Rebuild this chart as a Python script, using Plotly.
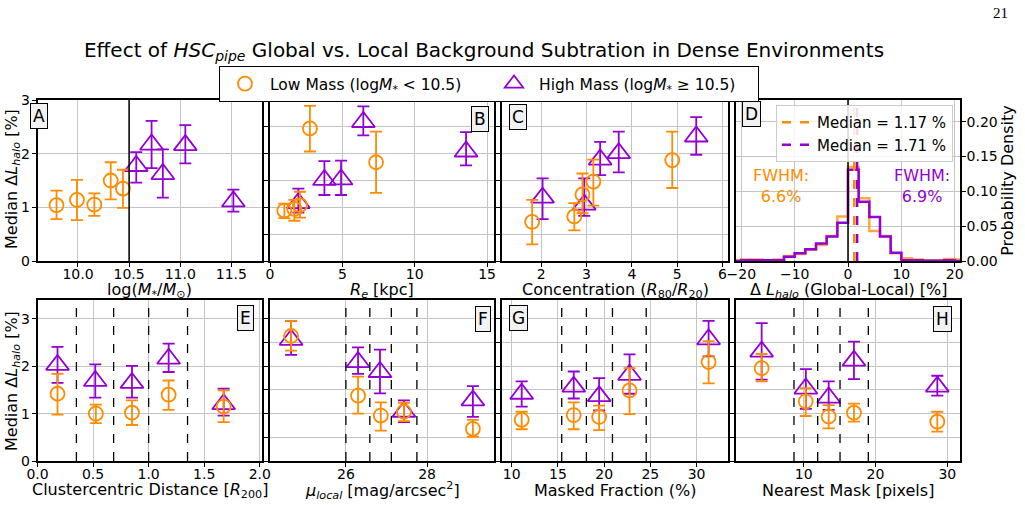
import plotly.graph_objects as go

W, H = 1025, 505
ORANGE = '#ff8c00'
PURPLE = '#9400d3'
FONT = 'DejaVu Sans'

# ---------------- data ----------------
# Panel A: stellar mass
A_LOW_X = [9.79, 9.99, 10.16, 10.32, 10.44]
A_LOW_Y = [1.04, 1.14, 1.05, 1.50, 1.35]
A_LOW_LO = [0.78, 0.76, 0.84, 1.15, 0.99]
A_LOW_HI = [1.31, 1.51, 1.26, 1.84, 1.70]
A_HIGH_X = [10.57, 10.72, 10.83, 11.05, 11.52]
A_HIGH_Y = [1.77, 2.17, 1.62, 2.16, 1.11]
A_HIGH_LO = [1.46, 1.73, 1.18, 1.82, 0.92]
A_HIGH_HI = [2.03, 2.61, 2.08, 2.53, 1.33]

# Panel B: effective radius
B_LOW_X = [0.99, 1.68, 2.07, 2.76, 7.33]
B_LOW_Y = [0.94, 0.97, 1.04, 2.47, 1.84]
B_LOW_LO = [0.80, 0.75, 0.81, 2.04, 1.27]
B_LOW_HI = [1.07, 1.14, 1.29, 2.89, 2.41]
B_HIGH_X = [1.96, 3.76, 4.91, 6.45, 13.55]
B_HIGH_Y = [1.08, 1.51, 1.52, 2.59, 2.04]
B_HIGH_LO = [0.90, 1.23, 1.23, 2.34, 1.78]
B_HIGH_HI = [1.35, 1.86, 1.87, 2.88, 2.40]

# Panel C: concentration
C_LOW_X = [1.80, 2.73, 2.91, 3.15, 4.89]
C_LOW_Y = [0.73, 0.83, 1.24, 1.48, 1.88]
C_LOW_LO = [0.31, 0.57, 0.89, 1.03, 1.36]
C_LOW_HI = [1.14, 1.08, 1.63, 1.89, 2.41]
C_HIGH_X = [2.03, 2.95, 3.30, 3.71, 5.42]
C_HIGH_Y = [1.18, 1.05, 1.89, 2.01, 2.32]
C_HIGH_LO = [0.78, 0.84, 1.60, 1.65, 1.98]
C_HIGH_HI = [1.54, 1.54, 2.22, 2.41, 2.68]

# Panel D: histogram of Delta L_halo (bin edges and densities)
D_EDGES = [-22, -20, -18, -16, -14, -12, -10, -8, -6, -4, -2, 0, 2, 4, 6, 8, 10, 12, 14, 16, 18, 20, 22]
D_LOW_DENS = [0.001, 0.002, 0.002, 0.001, 0.002, 0.007, 0.010, 0.016, 0.023, 0.036, 0.064,
              0.135, 0.090, 0.043, 0.036, 0.011, 0.004, 0.002, 0.001, 0.001, 0.003, 0.002]
D_HIGH_DENS = [0.000, 0.001, 0.001, 0.001, 0.001, 0.006, 0.011, 0.017, 0.025, 0.035, 0.055,
               0.131, 0.085, 0.063, 0.035, 0.012, 0.001, 0.001, 0.0005, 0.0005, 0.001, 0.000]
D_MEDIANS = [1.17, 1.71]
D_FWHM = [6.6, 6.9]

# Panel E: clustercentric distance
E_LOW_X = [0.18, 0.525, 0.85, 1.18, 1.675]
E_LOW_Y = [1.42, 1.00, 1.02, 1.40, 1.15]
E_LOW_LO = [0.98, 0.80, 0.76, 1.08, 0.82]
E_LOW_HI = [1.84, 1.19, 1.28, 1.70, 1.49]
E_HIGH_X = [0.18, 0.52, 0.85, 1.18, 1.675]
E_HIGH_Y = [2.03, 1.69, 1.65, 2.16, 1.20]
E_HIGH_LO = [1.65, 1.34, 1.34, 1.88, 0.96]
E_HIGH_HI = [2.41, 2.04, 2.01, 2.48, 1.53]
E_BIN_EDGES = [0.35, 0.685, 1.0, 1.35]

# Panel F: local surface brightness
F_LOW_X = [24.65, 26.30, 26.86, 27.43, 29.13]
F_LOW_Y = [2.64, 1.38, 0.96, 1.04, 0.68]
F_LOW_LO = [2.33, 1.00, 0.64, 0.84, 0.51]
F_LOW_HI = [2.96, 1.78, 1.24, 1.23, 0.87]
F_HIGH_X = [24.65, 26.30, 26.84, 27.43, 29.13]
F_HIGH_Y = [2.56, 2.09, 1.88, 1.04, 1.28]
F_HIGH_LO = [2.24, 1.84, 1.43, 0.82, 0.93]
F_HIGH_HI = [2.96, 2.40, 2.35, 1.28, 1.58]
F_BIN_EDGES = [26.0, 26.59, 27.12, 27.75]

# Panel G: masked fraction
G_LOW_X = [11.08, 16.71, 19.46, 22.75, 31.3]
G_LOW_Y = [0.87, 0.97, 0.93, 1.49, 2.09]
G_LOW_LO = [0.67, 0.67, 0.65, 0.99, 1.64]
G_LOW_HI = [1.04, 1.24, 1.17, 1.96, 2.53]
G_HIGH_X = [11.08, 16.71, 19.46, 22.75, 31.3]
G_HIGH_Y = [1.42, 1.57, 1.37, 1.82, 2.57]
G_HIGH_LO = [1.15, 1.32, 1.07, 1.42, 2.21]
G_HIGH_HI = [1.68, 1.89, 1.75, 2.25, 2.96]
G_BIN_EDGES = [15.41, 18.08, 20.9, 24.55]

# Panel H: nearest mask
H_LOW_X = [4.15, 10.28, 13.48, 17.0, 28.6]
H_LOW_Y = [1.96, 1.26, 0.94, 1.02, 0.83]
H_LOW_LO = [1.68, 0.95, 0.69, 0.83, 0.62]
H_LOW_HI = [2.26, 1.54, 1.18, 1.21, 1.04]
H_HIGH_X = [4.15, 10.3, 13.48, 17.0, 28.6]
H_HIGH_Y = [2.31, 1.53, 1.34, 2.12, 1.57]
H_HIGH_LO = [1.72, 1.10, 1.08, 1.73, 1.38]
H_HIGH_HI = [2.91, 1.94, 1.68, 2.52, 1.80]
H_BIN_EDGES = [8.65, 11.95, 15.06, 19.0]

MASS_SPLIT = 10.5

X_TITLES = ['log(<i>M</i><sub>*</sub>/<i>M</i><sub>⊙</sub>)',
            '<i>R</i><sub><i>e</i></sub> [kpc]',
            'Concentration (<i>R</i><sub>80</sub>/<i>R</i><sub>20</sub>)',
            'Δ <i>L</i><sub><i>halo</i></sub> (Global-Local) [%]',
            'Clustercentric Distance [<i>R</i><sub>200</sub>]',
            '<i>μ</i><sub><i>local</i></sub> [mag/arcsec<sup>2</sup>]',
            'Masked Fraction (%)',
            'Nearest Mask [pixels]']
Y_TITLE = 'Median Δ<i>L</i><sub><i>halo</i></sub> [%]'


# ---------------- helpers ----------------
def px_x(p):
    return p / W


def px_y(p):
    return 1 - p / H


def xid(k):
    return 'x' if k == 1 else 'x%d' % k


def yid(k):
    return 'y' if k == 1 else 'y%d' % k


COLS = [(37.5, 262), (270, 494), (502, 728), (736, 960)]
ROWS = [(100, 261), (300, 461)]

fig = go.Figure()


def add_points(k, lx, ly, llo, lhi, hx, hy, hlo, hhi, legend=False):
    xa, ya = xid(k), yid(k)
    fig.add_trace(go.Scatter(
        x=hx, y=hy, xaxis=xa, yaxis=ya, mode='markers',
        name='High Mass (log<i>M</i><sub>*</sub> ≥ 10.5)', showlegend=legend, legendrank=2,
        marker=dict(symbol='triangle-up-open', size=20, color=PURPLE, line=dict(width=1.8, color=PURPLE)),
        error_y=dict(type='data', symmetric=False,
                     array=[a - b for a, b in zip(hhi, hy)],
                     arrayminus=[b - a for a, b in zip(hlo, hy)],
                     color=PURPLE, thickness=1.8, width=6)))
    fig.add_trace(go.Scatter(
        x=lx, y=ly, xaxis=xa, yaxis=ya, mode='markers',
        name='Low Mass (log<i>M</i><sub>*</sub> &lt; 10.5)', showlegend=legend, legendrank=1,
        marker=dict(symbol='circle-open', size=14, color=ORANGE, line=dict(width=1.8, color=ORANGE)),
        error_y=dict(type='data', symmetric=False,
                     array=[a - b for a, b in zip(lhi, ly)],
                     arrayminus=[b - a for a, b in zip(llo, ly)],
                     color=ORANGE, thickness=1.8, width=6)))


add_points(1, A_LOW_X, A_LOW_Y, A_LOW_LO, A_LOW_HI, A_HIGH_X, A_HIGH_Y, A_HIGH_LO, A_HIGH_HI, legend=True)
add_points(2, B_LOW_X, B_LOW_Y, B_LOW_LO, B_LOW_HI, B_HIGH_X, B_HIGH_Y, B_HIGH_LO, B_HIGH_HI)
add_points(3, C_LOW_X, C_LOW_Y, C_LOW_LO, C_LOW_HI, C_HIGH_X, C_HIGH_Y, C_HIGH_LO, C_HIGH_HI)
add_points(5, E_LOW_X, E_LOW_Y, E_LOW_LO, E_LOW_HI, E_HIGH_X, E_HIGH_Y, E_HIGH_LO, E_HIGH_HI)
add_points(6, F_LOW_X, F_LOW_Y, F_LOW_LO, F_LOW_HI, F_HIGH_X, F_HIGH_Y, F_HIGH_LO, F_HIGH_HI)
add_points(7, G_LOW_X, G_LOW_Y, G_LOW_LO, G_LOW_HI, G_HIGH_X, G_HIGH_Y, G_HIGH_LO, G_HIGH_HI)
add_points(8, H_LOW_X, H_LOW_Y, H_LOW_LO, H_LOW_HI, H_HIGH_X, H_HIGH_Y, H_HIGH_LO, H_HIGH_HI)


# Histogram steps (panel D)
def step_xy(edges, dens):
    xs = [edges[0]] + list(edges[:-1]) + [edges[-1]]
    ys = [0] + list(dens) + [0]
    return xs, ys


sx, sy = step_xy(D_EDGES, D_LOW_DENS)
fig.add_trace(go.Scatter(x=sx, y=sy, xaxis='x4', yaxis='y4', mode='lines', line_shape='hv',
                         line=dict(color=ORANGE, width=2.5), opacity=0.75, showlegend=False))
sx, sy = step_xy(D_EDGES, D_HIGH_DENS)
fig.add_trace(go.Scatter(x=sx, y=sy, xaxis='x4', yaxis='y4', mode='lines', line_shape='hv',
                         line=dict(color=PURPLE, width=2.5), showlegend=False))

# ---------------- axes ----------------
tick_font = dict(family=FONT, size=14, color='black')
GRID = '#c4c4c4'

x_cfg = {
    1: dict(range=[9.604, 11.80], tick0=10, dtick=0.5, tickformat='.1f'),
    2: dict(range=[0, 15.48], tick0=0, dtick=5),
    3: dict(range=[1.135, 6.12], tick0=0, dtick=1),
    4: dict(range=[-21, 21], tick0=0, dtick=10),
    5: dict(range=[0, 2.02], tick0=0, dtick=0.5, tickformat='.1f'),
    6: dict(range=[24.13, 29.65], tick0=24, dtick=2),
    7: dict(range=[8.95, 33.4], tick0=0, dtick=5),
    8: dict(range=[0.58, 31.76], tick0=0, dtick=10),
}

layout = {}
for k in range(1, 9):
    col = COLS[(k - 1) % 4]
    row = ROWS[(k - 1) // 4]
    xc = x_cfg[k]
    xkey = 'xaxis' if k == 1 else 'xaxis%d' % k
    ykey = 'yaxis' if k == 1 else 'yaxis%d' % k
    layout[xkey] = dict(
        domain=[px_x(col[0]), px_x(col[1])], anchor=yid(k),
        range=xc['range'], tick0=xc['tick0'], dtick=xc['dtick'], tickformat=xc.get('tickformat', ''),
        showgrid=True, gridcolor=GRID, gridwidth=1.2, zeroline=False,
        showline=True, linecolor='black', linewidth=1.5, mirror=True,
        ticks='outside', ticklen=4, tickcolor='black', tickfont=tick_font,
        ticklabelstandoff=-5, automargin=False)
    top = k <= 4
    ycfg = dict(
        domain=[px_y(row[1]), px_y(row[0])], anchor=xid(k),
        range=[0, 3.0] if top else [0, 3.4],
        tick0=0, dtick=1 if k in (1, 5) else 0.5,
        showgrid=True, gridcolor=GRID, gridwidth=1.2, zeroline=False,
        showline=True, linecolor='black', linewidth=1.5, mirror=True,
        ticks='outside', ticklen=4, tickcolor='black', tickfont=tick_font,
        ticklabelstandoff=-1,
        showticklabels=k in (1, 5), automargin=False)
    if k == 4:
        ycfg.update(range=[0, 0.231], dtick=0.05, tickformat='.2f', side='right', showticklabels=True,
                    ticklabelstandoff=-2,
                    title=dict(text='Probability Density', font=dict(family=FONT, size=16, color='black'), standoff=4))
    layout[ykey] = ycfg

fig.update_layout(**layout)

# ---------------- shapes ----------------
shapes = []
shapes.append(dict(type='line', xref='x', yref='y domain', x0=MASS_SPLIT, x1=MASS_SPLIT, y0=0, y1=1,
                   line=dict(color='black', width=1.5)))
shapes.append(dict(type='line', xref='x4', yref='y4 domain', x0=0, x1=0, y0=0, y1=1,
                   line=dict(color='black', width=1.5)))
for med, colr in zip(D_MEDIANS, [ORANGE, PURPLE]):
    shapes.append(dict(type='line', xref='x4', yref='y4 domain', x0=med, x1=med, y0=0, y1=1,
                       line=dict(color=colr, width=2.5, dash='dash'),
                       showlegend=True, legend='legend2', name='Median = %.2f %%' % med))
for k, edges in zip([5, 6, 7, 8], [E_BIN_EDGES, F_BIN_EDGES, G_BIN_EDGES, H_BIN_EDGES]):
    for e in edges:
        shapes.append(dict(type='line', xref=xid(k), yref=yid(k) + ' domain', x0=e, x1=e, y0=0, y1=1,
                           line=dict(color='black', width=1.3, dash='dash')))
fig.update_layout(shapes=shapes)

# ---------------- annotations ----------------
ann = []
# x-axis titles
for k in range(1, 9):
    col = COLS[(k - 1) % 4]
    ty = 290 if k <= 4 else 490
    ann.append(dict(text=X_TITLES[k - 1], xref='paper', yref='paper', x=px_x((col[0] + col[1]) / 2), y=px_y(ty),
                    showarrow=False, xanchor='center', yanchor='middle',
                    font=dict(family=FONT, size=16, color='black')))
# y-axis titles (left column)
for ty in (179, 381):
    ann.append(dict(text=Y_TITLE, xref='paper', yref='paper', x=px_x(12), y=px_y(ty), textangle=-90,
                    showarrow=False, xanchor='center', yanchor='middle',
                    font=dict(family=FONT, size=16, color='black')))
letters = [('A', 39, 116), ('B', 480, 119), ('C', 518, 117), ('D', 751, 114),
           ('E', 245, 318), ('F', 483, 319), ('G', 518, 318), ('H', 942, 319)]
for t, x, y in letters:
    ann.append(dict(text=t, xref='paper', yref='paper', x=px_x(x), y=px_y(y), showarrow=False,
                    xanchor='center', yanchor='middle', font=dict(family=FONT, size=17, color='black'),
                    bgcolor='#f2f2f2', bordercolor='black', borderwidth=1, borderpad=2))
ann.append(dict(text='FWHM:<br>%.1f%%' % D_FWHM[0], xref='x4', yref='y4', x=-12.5, y=0.108, showarrow=False,
                font=dict(family=FONT, size=16, color=ORANGE), align='center'))
ann.append(dict(text='FWHM:<br>%.1f%%' % D_FWHM[1], xref='x4', yref='y4', x=13.9, y=0.108, showarrow=False,
                font=dict(family=FONT, size=16, color=PURPLE), align='center'))
ann.append(dict(text='21', xref='paper', yref='paper', x=px_x(1000), y=px_y(13), showarrow=False,
                xanchor='center', yanchor='middle', font=dict(family='Liberation Serif', size=15, color='black')))
fig.update_layout(annotations=ann)

fig.update_layout(
    width=W, height=H, margin=dict(l=0, r=0, t=0, b=0),
    paper_bgcolor='white', plot_bgcolor='white',
    font=dict(family=FONT, size=14, color='black'),
    title=dict(text='Effect of <i>HSC</i><sub><i>pipe</i></sub> Global vs. Local Background Subtration in Dense Environments',
               x=px_x(484), y=px_y(50), xanchor='center', yanchor='middle',
               font=dict(family=FONT, size=20, color='black')),
    legend=dict(orientation='h', x=px_x(489), y=px_y(66), xanchor='center', yanchor='top',
                bordercolor='black', borderwidth=1, bgcolor='white', traceorder='normal',
                entrywidth=214, entrywidthmode='pixels', itemwidth=40,
                font=dict(family=FONT, size=15.5, color='black')),
    legend2=dict(x=px_x(776), y=px_y(105), xanchor='left', yanchor='top',
                 bordercolor='#cccccc', borderwidth=1, bgcolor='rgba(255,255,255,0.85)',
                 font=dict(family=FONT, size=15, color='black')),
)

fig.write_html('out.html')
